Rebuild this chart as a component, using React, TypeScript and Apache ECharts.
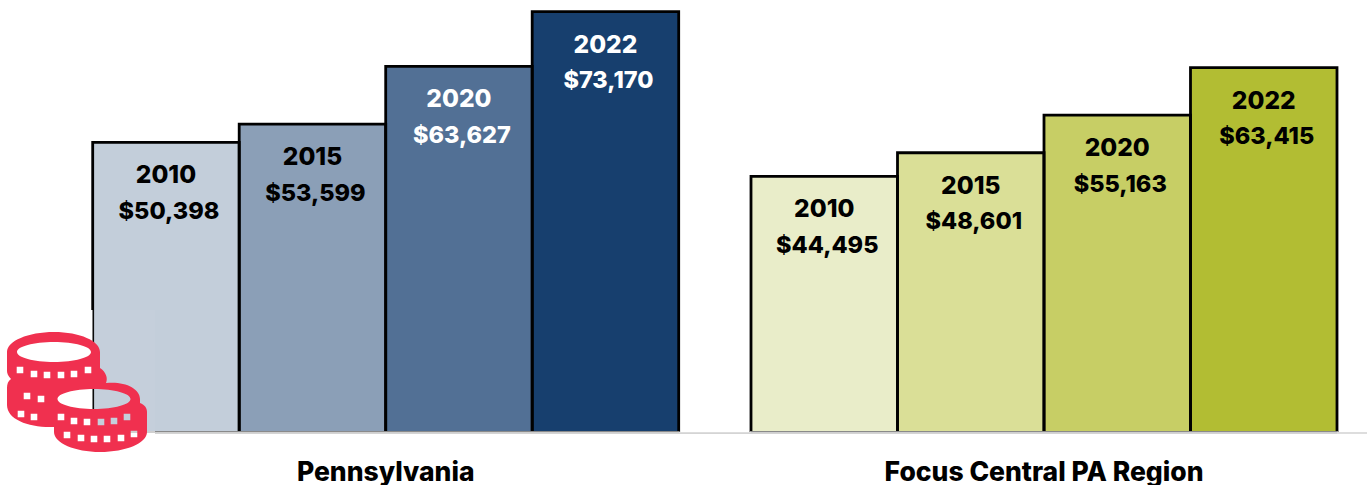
import React, { useEffect, useRef } from "react";
import * as echarts from "echarts";

const years = ["2010", "2015", "2020", "2022"];
const paValues = [50398, 53599, 63627, 73170];
const regionValues = [44495, 48601, 55163, 63415];
const paColors = ["#C3CEDA", "#8B9FB7", "#527095", "#173F6E"];
const regionColors = ["#E9EDC9", "#DADF97", "#C7CE65", "#B2BD33"];
const paLabelColors = ["#000000", "#000000", "#FFFFFF", "#FFFFFF"];
const regionLabelColors = ["#000000", "#000000", "#000000", "#000000"];
const groupNames = ["Pennsylvania", "Focus Central PA Region"];

const FONT = "Inter";

const K = 0.5523;
const ell = (cx: number, cy: number, rx: number, ry: number) => {
  const kx = rx * K;
  const ky = ry * K;
  return (
    `M${cx - rx} ${cy}` +
    `C${cx - rx} ${cy + ky} ${cx - kx} ${cy + ry} ${cx} ${cy + ry}` +
    `C${cx + kx} ${cy + ry} ${cx + rx} ${cy + ky} ${cx + rx} ${cy}` +
    `C${cx + rx} ${cy - ky} ${cx + kx} ${cy - ry} ${cx} ${cy - ry}` +
    `C${cx - kx} ${cy - ry} ${cx - rx} ${cy - ky} ${cx - rx} ${cy}Z`
  );
};
const win = ([cx, cy]: number[]) =>
  `M${cx - 3.3} ${cy - 3.3}L${cx - 3.3} ${cy + 3.3}L${cx + 3.3} ${cy + 3.3}L${cx + 3.3} ${cy - 3.3}Z`;

const coinWindows = [
  [20, 370], [34, 374], [47, 375], [61, 375], [74, 374], [88, 370],
  [27, 396], [41, 399],
  [21, 414], [34, 417],
  [61, 417], [74, 421], [87, 422], [101, 422], [114, 421], [127, 417],
  [67, 435], [81, 438], [94, 439], [107, 439], [121, 438], [134, 434],
];
const coinPath =
  "M7 352C7 341 28 332 54 332C80 332 100 341 100 352L100 368C106 372 108 378 106 383C124 381 140 388 140 399L140 403C145 405 147 408 147 412L147 432C147 443 126 452 100 452C75 452 54 443 54 432L54 427C30 428 7 420 7 405L7 388C7 384 8 381 11 379C8 376 7 373 7 371Z" +
  ell(54, 352, 37, 10) +
  ell(94, 399, 36.5, 10) +
  coinWindows.map(win).join("");

echarts.graphic.registerShape("coins", echarts.graphic.extendPath(coinPath, {}));

function buildSeries(values: number[], colors: string[], labelColors: string[], idx: number) {
  const base = (s: any) => ({ fontFamily: FONT, fontWeight: 800, lineHeight: 36, ...s });
  return [
    {
      type: "bar",
      xAxisIndex: idx,
      yAxisIndex: idx,
      barCategoryGap: 0,
      z: 2,
      data: values.map((v, i) => ({
        value: v,
        itemStyle: { color: colors[i] },
        label: {
          rich: {
            y: base({ color: labelColors[i], fontSize: 24.5 }),
            v: base({ color: labelColors[i], fontSize: 23.5, padding: [0, 0, 0, 6] }),
          },
        },
      })),
      label: {
        show: true,
        position: "insideTop",
        distance: 14,
        formatter: (p: any) => `{y|${p.name}}\n{v|$${Number(p.value).toLocaleString("en-US")}}`,
      },
    },
    {
      type: "custom",
      xAxisIndex: idx,
      yAxisIndex: idx,
      z: 3,
      silent: true,
      data: values.map((v, i) => [i, v]),
      renderItem: (_: any, api: any) => {
        const [x, top] = api.coord([api.value(0), api.value(1)]);
        const [, bottom] = api.coord([api.value(0), 0]);
        const half = api.size([1, 0])[0] / 2;
        return {
          type: "polyline",
          shape: {
            points: [
              [x - half, bottom],
              [x - half, top],
              [x + half, top],
              [x + half, bottom],
            ],
          },
          style: { fill: "none", stroke: "#000000", lineWidth: 2.8, lineJoin: "miter" },
        };
      },
    },
  ];
}

export default function App() {
  const ref = useRef<HTMLDivElement>(null);
  useEffect(() => {
    const chart = echarts.init(ref.current!, undefined, { renderer: "svg" });
    const xAxis = (name: string, i: number) => ({
      type: "category",
      gridIndex: i,
      data: years,
      z: 10,
      axisLine: { show: true, lineStyle: { color: "#CFCFCF", width: 2 } },
      axisTick: { show: false },
      axisLabel: { show: false },
      name,
      nameLocation: "middle",
      nameGap: 25.5,
      nameTextStyle: { fontFamily: FONT, fontWeight: 800, fontSize: 26.5, color: "#000000" },
    });
    const yAxis = (i: number) => ({
      type: "value",
      gridIndex: i,
      min: 0,
      max: 75000,
      show: false,
      splitLine: { show: false },
    });
    chart.setOption({
      animation: false,
      backgroundColor: "#FFFFFF",
      grid: [
        { left: 92.7, width: 586, top: 1.1, bottom: 53, outerBoundsMode: "none" },
        { left: 751, width: 586, top: 1.1, bottom: 53, outerBoundsMode: "none" },
      ],
      xAxis: groupNames.map(xAxis),
      yAxis: [yAxis(0), yAxis(1)],
      series: [
        ...buildSeries(paValues, paColors, paLabelColors, 0),
        ...buildSeries(regionValues, regionColors, regionLabelColors, 1),
      ],
      graphic: [
        { type: "rect", z: 20, shape: { x: 88, y: 310, width: 4.5, height: 124 }, style: { fill: "#FFFFFF" } },
        { type: "rect", z: 20, shape: { x: 93, y: 310, width: 62, height: 121 }, style: { fill: "#FFFFFF", opacity: 0.04 } },
        { type: "line", z: 21, shape: { x1: 679, y1: 433, x2: 751, y2: 433 }, style: { stroke: "#DDDDDD", lineWidth: 2 } },
        { type: "line", z: 21, shape: { x1: 1337, y1: 433, x2: 1367, y2: 433 }, style: { stroke: "#DDDDDD", lineWidth: 2 } },
        { type: "line", z: 21, shape: { x1: 155, y1: 431.5, x2: 679, y2: 431.5 }, style: { stroke: "#8A8A8A", lineWidth: 1 } },
        { type: "line", z: 21, shape: { x1: 751, y1: 431.5, x2: 1337, y2: 431.5 }, style: { stroke: "#8A8A8A", lineWidth: 1 } },
        { type: "line", z: 21, shape: { x1: 155, y1: 433.5, x2: 1337, y2: 433.5 }, style: { stroke: "#D4D4D4", lineWidth: 1 } },
        { type: "coins", z: 30, x: 0, y: 0, style: { fill: "#F0304F" } },
      ],
    });
    return () => chart.dispose();
  }, []);
  return <div ref={ref} style={{ position: "fixed", left: 0, top: 0, width: 1367, height: 485 }} />;
}
